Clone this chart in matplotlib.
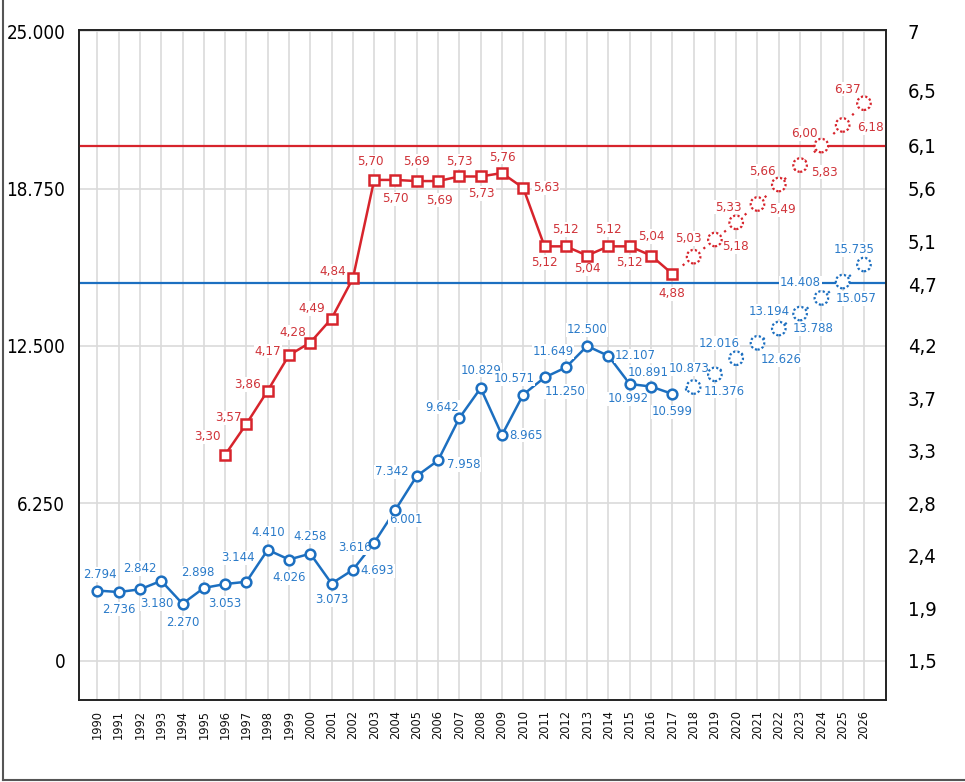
import matplotlib; matplotlib.use('agg')
import matplotlib.pyplot as plt
from matplotlib import font_manager
from matplotlib.lines import Line2D

# look for a narrow / condensed sans font, else Roboto
narrow = ('condensed', 'semi-condensed', 'extra-condensed', 'ultra-condensed')
cands = [f for f in font_manager.fontManager.ttflist
         if f.style == 'normal' and f.weight in (400, 'normal', 'regular')
         and ('Condensed' in f.name or 'Narrow' in f.name or f.stretch in narrow)
         and 'Mono' not in f.name and 'Serif' not in f.name and 'CJK' not in f.name]
if cands:
    FONT, STRETCH, SCALE = cands[0].name, cands[0].stretch, 1.0
else:
    FONT, STRETCH, SCALE = 'Roboto', 'normal', 0.85
plt.rcParams['font.family'] = [FONT, 'DejaVu Sans']
plt.rcParams['font.stretch'] = STRETCH

# Data
years = list(range(1990, 2027))
blue_vals = [2794, 2736, 2842, 3180, 2270, 2898, 3053, 3144, 4410, 4026, 4258, 3073, 3616,
             4693, 6001, 7342, 7958, 9642, 10829, 8965, 10571, 11250, 11649, 12500, 12107,
             10992, 10891, 10599, 10873, 11376, 12016, 12626, 13194, 13788, 14408, 15057, 15735]
red_years = list(range(1996, 2027))
red_vals = [3.30, 3.57, 3.86, 4.17, 4.28, 4.49, 4.84, 5.70, 5.70, 5.69, 5.69, 5.73, 5.73,
            5.76, 5.63, 5.12, 5.12, 5.04, 5.12, 5.12, 5.04, 4.88, 5.03, 5.18, 5.33, 5.49,
            5.66, 5.83, 6.00, 6.18, 6.37]
last_actual = 2017
blue_ref = 15000
red_ref = 6.0
left_ticks = [0, 6250, 12500, 18750, 25000]
left_labels = ['0', '6.250', '12.500', '18.750', '25.000']
right_labels = ['1,5', '1,9', '2,4', '2,8', '3,3', '3,7', '4,2', '4,7', '5,1', '5,6', '6,1', '6,5', '7']

# label offsets in pixels (dx, dy down)
blue_off = [(3, -16), (0, 17), (0, -21), (-4, 23), (0, 19), (-6, -15), (0, 19), (-8, -24),
            (0, -17), (0, 18), (0, -17), (0, 16), (2, -22), (3, 28), (10, 10), (-25, -4),
            (26, 4), (-17, -11), (0, -18), (24, 0), (-9, -16), (21, 14), (-13, -16), (0, -16),
            (27, 0), (-2, 15), (-3, -14), (0, 18), (-4, -18), (9, 17), (-17, -15), (24, 17),
            (-10, -17), (13, 15), (-21, -15), (13, 17), (-10, -15)]
red_off = [(-18, -18), (-18, -6), (-20, -6), (-21, -4), (-17, -10), (-20, -10), (-20, -7),
           (-4, -18), (0, 19), (0, -20), (1, 19), (0, -15), (1, 17), (0, -16), (23, 0),
           (0, 16), (0, -17), (0, 13), (0, -17), (0, 16), (0, -19), (0, 20), (-5, -18),
           (21, 7), (-8, -15), (25, 6), (-16, -13), (24, 7), (-17, -12), (28, 3), (-17, -14)]

BLUE = '#1c6fc0'
BLUE_T = '#2b7bc9'
RED = '#d7242c'
RED_T = '#d0343a'
GRID = '#dadada'

fig = plt.figure(figsize=(9.65, 7.82), dpi=100)
ax = fig.add_axes([0.0819, 0.1049, 0.8359, 0.8567])
ax2 = ax.twinx()

# left axis: 0 at px 661, 25000 at px 31
ax.set_ylim(-1548, 25040)
ax.set_xlim(1989.14, 2027.02)
ax2.set_ylim(1.1595, 7.0087)

ax.set_yticks(left_ticks)
ax.set_yticklabels(left_labels, fontsize=13.5 * SCALE)
ax.set_xticks(years)
ax.set_xticklabels([str(y) for y in years], rotation=90, fontsize=9.2 * SCALE, color='#111111')
ax.tick_params(axis='both', length=0)
ax.tick_params(axis='y', pad=10)
ax.tick_params(axis='x', pad=7)
ax.grid(True, color=GRID, lw=1.2, zorder=0)
ax.set_axisbelow(True)

r_pos = [1.5 + k * 5.5 / 12 for k in range(13)]
r_pos[7] = 1.5 + 377 / 114.545  # sits on the blue line
r_pos[10] = red_ref
r_pos[11] = 1.5 + 571 / 114.545
ax2.set_yticks(r_pos)
ax2.set_yticklabels(right_labels, fontsize=14.5 * SCALE)
ax2.tick_params(axis='y', length=0, pad=16)

for a in (ax, ax2):
    for s in a.spines.values():
        s.set_color('#222222')
        s.set_linewidth(1.2)

# reference lines
ax.axhline(blue_ref, color=BLUE, lw=1.6, zorder=2)
ax2.axhline(red_ref, color=RED, lw=1.6, zorder=2)

n_act = years.index(last_actual) + 1
r_act = red_years.index(last_actual) + 1

# blue series: lines, then labels, then markers on top
ax.plot(years[:n_act], blue_vals[:n_act], color=BLUE, lw=1.8, zorder=3)
ax.plot(years[n_act - 1:], blue_vals[n_act - 1:], color=BLUE, lw=1.6, ls=(0, (1, 5)), zorder=3)
ax.plot(years[:n_act], blue_vals[:n_act], ls='none', marker='o', ms=7,
        mfc='white', mec=BLUE, mew=1.8, zorder=5)
ax.scatter(years[n_act:], blue_vals[n_act:], s=95, facecolor='white', edgecolor=BLUE,
           linewidths=1.6, linestyles=(0, (1, 1)), zorder=5)

# red series
ax2.plot(red_years[:r_act], red_vals[:r_act], color=RED, lw=1.8, zorder=3)
ax2.plot(red_years[r_act - 1:], red_vals[r_act - 1:], color=RED, lw=1.6, ls=(0, (1, 5)), zorder=3)
ax2.plot(red_years[:r_act], red_vals[:r_act], ls='none', marker='s', ms=7.5,
         mfc='white', mec=RED, mew=1.8, zorder=5)
ax2.scatter(red_years[r_act:], red_vals[r_act:], s=95, facecolor='white', edgecolor=RED,
            linewidths=1.6, linestyles=(0, (1, 1)), zorder=5)

box = dict(boxstyle='square,pad=0.05', fc='white', ec='none')
for x, v, (dx, dy) in zip(years, blue_vals, blue_off):
    ax.annotate(f'{v:,}'.replace(',', '.'), (x, v), xytext=(dx, -dy), textcoords='offset pixels',
                ha='center', va='center', fontsize=9.4 * SCALE, color=BLUE_T, bbox=box, zorder=4)
for x, v, (dx, dy) in zip(red_years, red_vals, red_off):
    ax2.annotate(f'{v:.2f}'.replace('.', ','), (x, v), xytext=(dx, -dy), textcoords='offset pixels',
                 ha='center', va='center', fontsize=9.6 * SCALE, color=RED_T, bbox=box, zorder=4)

# outer frame (left and bottom)
fig.add_artist(Line2D([0.003, 0.003], [0.003, 1.0], color='#555555', lw=1.5, transform=fig.transFigure))
fig.add_artist(Line2D([0.003, 1.0], [0.003, 0.003], color='#555555', lw=1.5, transform=fig.transFigure))

fig.savefig('out.png', dpi=100)
